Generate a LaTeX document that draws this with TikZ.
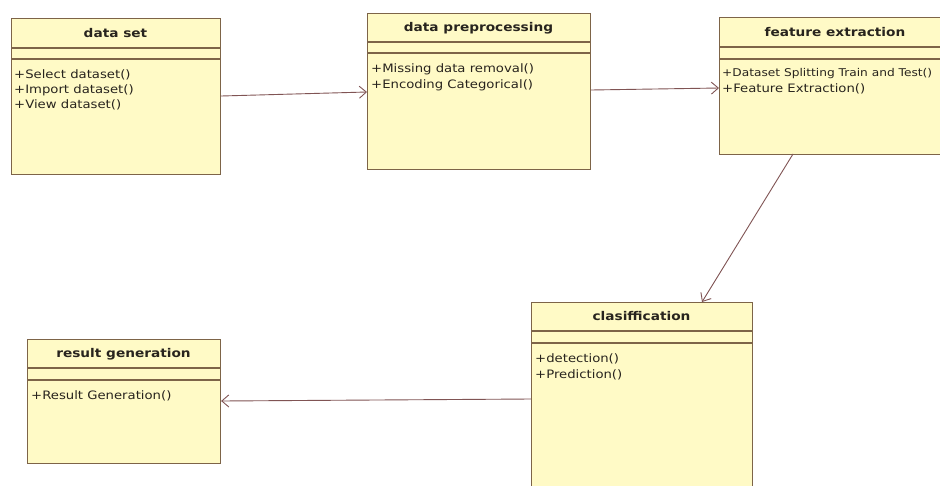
\documentclass[tikz,border=0pt]{standalone}
\usepackage{fontspec}
\setmainfont[FakeStretch=1.14]{DejaVu Sans}
\usetikzlibrary{arrows.meta}
\definecolor{boxfill}{RGB}{255,250,198}
\definecolor{boxline}{RGB}{125,100,72}
\definecolor{linkcol}{RGB}{128,84,84}
\definecolor{txtcol}{RGB}{40,36,30}
\tikzset{
  umlbox/.style={draw=boxline, fill=boxfill, line width=1.1pt, anchor=north west, inner sep=0pt, rectangle},
  sepline/.style={draw=boxline, line width=1.1pt},
  title/.style={font=\fontsize{12}{14}\selectfont\bfseries, text=txtcol, anchor=base, inner sep=0pt},
  meth/.style={font=\fontsize{11.6}{14}\selectfont, text=txtcol, anchor=base west, inner sep=0pt},
  link/.style={draw=linkcol, line width=0.9pt, -{Straight Barb[length=7pt,width=12pt,line width=0.9pt]}},
}
\begin{document}
\begin{tikzpicture}[x=1pt,y=-1pt]
\useasboundingbox (0,0) rectangle (940,485);
\clip (0,0) rectangle (940,485);
\fill[white] (0,0) rectangle (940,485);

% data set
\node[umlbox, minimum width=209pt, minimum height=156pt] (ds) at (11,18) {};
\draw[sepline] (11,48) -- (220,48);
\draw[sepline] (11,59) -- (220,59);
\node[title] (dst) at (115.5,37.5) {data set};
\node[meth] (ds1) at (14,78) {+Select dataset()};
\node[meth] (ds2) at (14,93) {+Import dataset()};
\node[meth] (ds3) at (14,108) {+View dataset()};

% data preprocessing
\node[umlbox, minimum width=223pt, minimum height=156pt] (dp) at (367,13) {};
\draw[sepline] (367,42) -- (590,42);
\draw[sepline] (367,53) -- (590,53);
\node[title] (dpt) at (478.5,31.5) {data preprocessing};
\node[meth] (dp1) at (371,72) {+Missing data removal()};
\node[meth] (dp2) at (371,88) {+Encoding Categorical()};

% feature extraction
\node[umlbox, minimum width=240pt, minimum height=137pt] (fe) at (719,17) {};
\draw[sepline] (719,47) -- (960,47);
\draw[sepline] (719,59) -- (960,59);
\node[title] (fet) at (835,36.5) {feature extraction};
\node[meth, font=\fontsize{10.7}{14}\selectfont] (fe1) at (722,76) {+Dataset Splitting Train and Test()};
\node[meth] (fe2) at (722,92) {+Feature Extraction()};

% clasiffication
\node[umlbox, minimum width=221pt, minimum height=200pt] (cl) at (531,302) {};
\draw[sepline] (531,331) -- (752,331);
\draw[sepline] (531,343) -- (752,343);
\node[title] (clt) at (641.5,320.5) {clasiffication};
\node[meth] (cl1) at (535,362) {+detection()};
\node[meth] (cl2) at (535,378) {+Prediction()};

% result generation
\node[umlbox, minimum width=193pt, minimum height=124pt] (rg) at (27,339) {};
\draw[sepline] (27,368) -- (220,368);
\draw[sepline] (27,380) -- (220,380);
\node[title] (rgt) at (123.5,357.5) {result generation};
\node[meth] (rg1) at (31,399) {+Result Generation()};

% connectors
\coordinate (fes) at (793,154);
\coordinate (cln) at (702,302);
\draw[link] (ds.east |- 0,96) -- (dp.west |- 0,92);
\draw[link] (dp.east |- 0,90) -- (fe.west |- 0,88);
\draw[link] (fes) -- (cln);
\draw[link] (cl.west |- 0,399) -- (rg.east |- 0,401);
\end{tikzpicture}
\end{document}
